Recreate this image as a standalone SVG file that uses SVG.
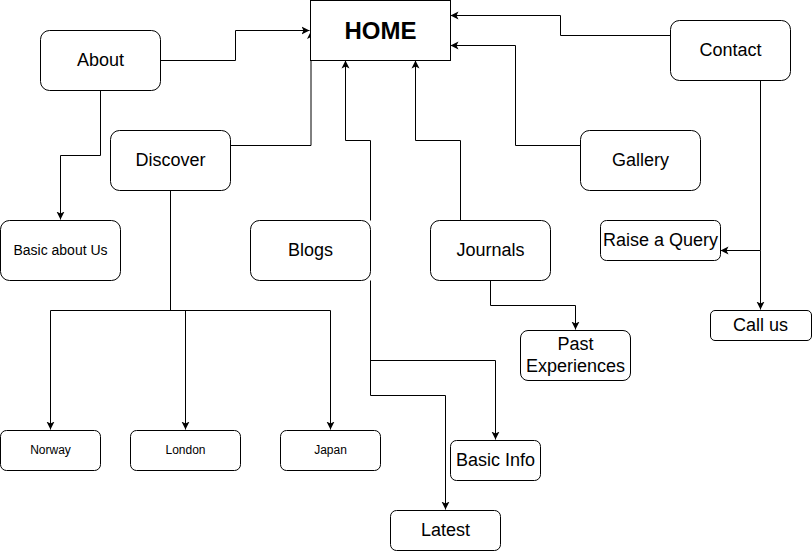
<svg xmlns="http://www.w3.org/2000/svg" width="812" height="551" viewBox="0 0 812 551">
<defs>
<marker id="arr" markerUnits="userSpaceOnUse" markerWidth="10" markerHeight="10" refX="8" refY="4" orient="auto" viewBox="0 0 10 8">
<path d="M0,0 L8,4 L0,8 L2,4 Z" fill="#000"/>
</marker>
<style>
.n rect{fill:#fff;stroke:#000;stroke-width:1}
.n text{font-family:"Liberation Sans",Arial,sans-serif;fill:#000;text-anchor:middle;dominant-baseline:central}
.c path{fill:none;stroke:#000;stroke-width:1;marker-end:url(#arr)}
.c path.nm{marker-end:none}
.f16{font-size:18px}
.f13{font-size:14px}
.f11{font-size:12px}
</style>
</defs>
<rect width="812" height="551" fill="#fff"/>
<g class="c" id="connectors">
<path d="M160.5,60.5 H235.5 V30.5 H309.5"/>
<path d="M230.5,145.5 H311 V31"/>
<path d="M100.5,90.5 V155.5 H60.5 V219.5"/>
<path class="nm" d="M170.5,190.5 V310.5"/>
<path d="M50.5,310.5 V429.5"/>
<path d="M50.5,310.5 H330.5 V429.5"/>
<path d="M185.5,310.5 V429.5"/>
<path class="nm" d="M370.5,220.5 V140.5 H345.5"/>
<path d="M345.5,140.5 V60.5"/>
<path class="nm" d="M370.5,280.5 V395.5"/>
<path d="M370.5,360.5 H495.5 V439.5"/>
<path d="M370.5,395.5 H445.5 V509.5"/>
<path d="M460.5,220.5 V140.5 H415.5 V60.5"/>
<path d="M490.5,280.5 V305.5 H575.5 V329.5"/>
<path d="M580.5,145.5 H515.5 V45.5 H450.5"/>
<path d="M670.5,35.5 H560.5 V15.5 H450.5"/>
<path d="M760.5,80.5 V250.5 H720.5"/>
<path d="M760.5,250.5 V309.5"/>
</g>
<g class="n" id="home"><rect x="310.5" y="0.5" width="140" height="60"/><text x="380.5" y="30" font-size="24" font-weight="bold">HOME</text></g>
<g class="n" id="about"><rect x="40.5" y="30.5" width="120" height="60" rx="9"/><text class="f16" x="100.5" y="60">About</text></g>
<g class="n" id="discover"><rect x="110.5" y="130.5" width="120" height="60" rx="9"/><text class="f16" x="170.5" y="160">Discover</text></g>
<g class="n" id="basic-about"><rect x="0.5" y="220.5" width="120" height="60" rx="9"/><text class="f13" x="60.5" y="250">Basic about Us</text></g>
<g class="n" id="blogs"><rect x="250.5" y="220.5" width="120" height="60" rx="9"/><text class="f16" x="310.5" y="250">Blogs</text></g>
<g class="n" id="journals"><rect x="430.5" y="220.5" width="120" height="60" rx="9"/><text class="f16" x="490.5" y="250">Journals</text></g>
<g class="n" id="gallery"><rect x="580.5" y="130.5" width="120" height="60" rx="9"/><text class="f16" x="640.5" y="160">Gallery</text></g>
<g class="n" id="contact"><rect x="670.5" y="20.5" width="120" height="60" rx="9"/><text class="f16" x="730.5" y="50">Contact</text></g>
<g class="n" id="raise-query"><rect x="600.5" y="220.5" width="120" height="40" rx="6"/><text class="f16" x="660.5" y="240">Raise a Query</text></g>
<g class="n" id="call-us"><rect x="710.5" y="310.5" width="101" height="30" rx="4.5"/><text class="f16" x="760.5" y="325">Call us</text></g>
<g class="n" id="past-exp"><rect x="520.5" y="330.5" width="110" height="50" rx="7.5"/><text class="f16" x="575.5" y="343.5">Past</text><text class="f16" x="575.5" y="365.5">Experiences</text></g>
<g class="n" id="norway"><rect x="0.5" y="430.5" width="100" height="40" rx="6"/><text class="f11" x="50.5" y="450">Norway</text></g>
<g class="n" id="london"><rect x="130.5" y="430.5" width="110" height="40" rx="6"/><text class="f11" x="185.5" y="450">London</text></g>
<g class="n" id="japan"><rect x="280.5" y="430.5" width="100" height="40" rx="6"/><text class="f11" x="330.5" y="450">Japan</text></g>
<g class="n" id="basic-info"><rect x="450.5" y="440.5" width="90" height="40" rx="6"/><text class="f16" x="495.5" y="460">Basic Info</text></g>
<g class="n" id="latest"><rect x="390.5" y="510.5" width="110" height="40" rx="6"/><text class="f16" x="445.5" y="530">Latest</text></g>
</svg>
